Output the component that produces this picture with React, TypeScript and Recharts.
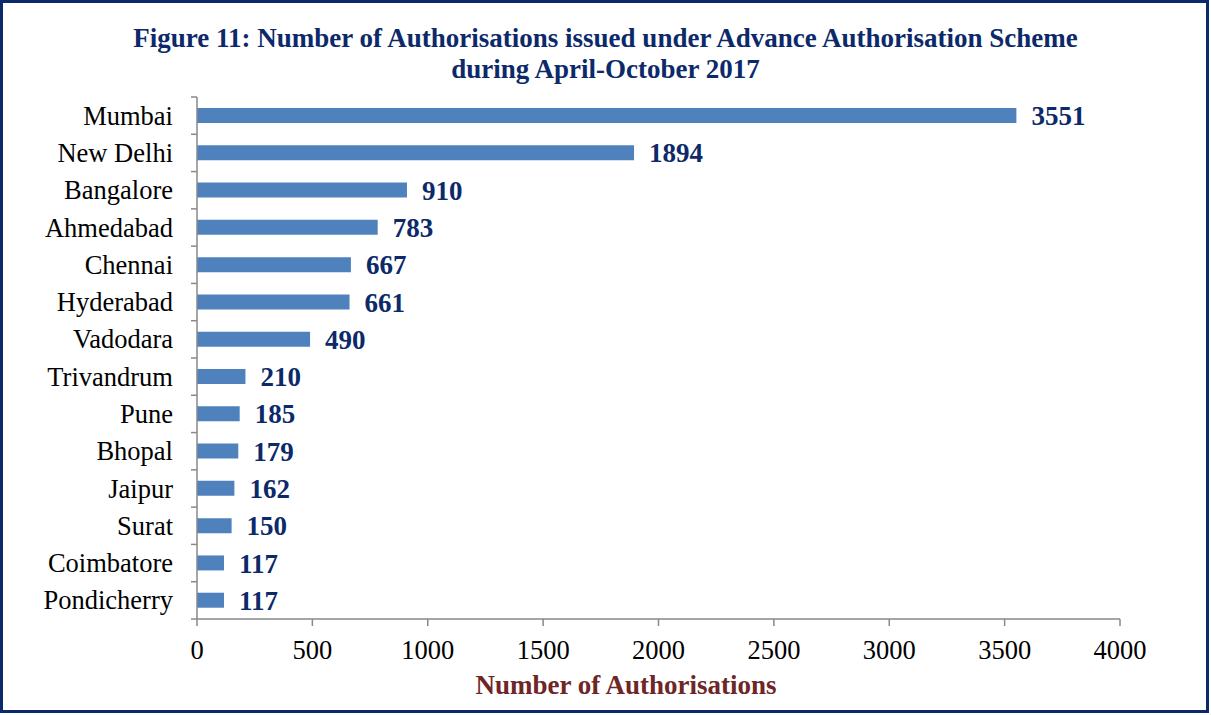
import React from 'react';
import { BarChart, Bar, XAxis, YAxis, LabelList } from 'recharts';

const categories = ['Mumbai', 'New Delhi', 'Bangalore', 'Ahmedabad', 'Chennai', 'Hyderabad', 'Vadodara', 'Trivandrum', 'Pune', 'Bhopal', 'Jaipur', 'Surat', 'Coimbatore', 'Pondicherry'];
const values = [3551, 1894, 910, 783, 667, 661, 490, 210, 185, 179, 162, 150, 117, 117];
const xTicks = [0, 500, 1000, 1500, 2000, 2500, 3000, 3500, 4000];

const data = categories.map((c, i) => ({ name: c, value: values[i] }));

const W = 1211;
const H = 715;
const M = { top: 97, right: 91, bottom: 0, left: 0 };
const Y_W = 197;
const X_H = 96;
const PLOT_H = H - M.top - M.bottom - X_H;
const BW = PLOT_H / categories.length;
const FONT = '"Liberation Serif", "Times New Roman", serif';
const AXIS = '#898989';
const NAVY = '#0c2a6a';

const YTick = (props: any) => {
  const { x, y, payload, index } = props;
  const ax = x + 6 + 18;
  return (
    <g>
      <text x={x} y={y} textAnchor="end" dominantBaseline="central" fontFamily={FONT} fontSize={26.5} fill="#000">
        {payload.value}
      </text>
      <line x1={ax - 6} x2={ax} y1={y - BW / 2} y2={y - BW / 2} stroke={AXIS} strokeWidth={1.5} />
      {index === categories.length - 1 && (
        <line x1={ax - 6} x2={ax} y1={y + BW / 2} y2={y + BW / 2} stroke={AXIS} strokeWidth={1.5} />
      )}
    </g>
  );
};

export default function App() {
  return (
    <div style={{ position: 'absolute', left: 0, top: 0, width: W, height: H, background: '#fff' }}>
      <BarChart width={W} height={H} data={data} layout="vertical" margin={M} barSize={15}>
        <XAxis
          type="number"
          domain={[0, 4000]}
          ticks={xTicks}
          height={X_H}
          tickSize={7}
          tickMargin={14}
          axisLine={{ stroke: AXIS, strokeWidth: 1.5 }}
          tickLine={{ stroke: AXIS, strokeWidth: 1.5 }}
          tick={{ fontFamily: FONT, fontSize: 26.5, fill: '#000' }}
          interval={0}
        />
        <YAxis
          type="category"
          dataKey="name"
          width={Y_W}
          tickSize={6}
          tickMargin={18}
          axisLine={{ stroke: AXIS, strokeWidth: 1.5 }}
          tickLine={false}
          tick={<YTick />}
          interval={0}
        />
        <Bar dataKey="value" fill="#4f81bd" isAnimationActive={false}>
          <LabelList
            dataKey="value"
            position="right"
            offset={15}
            style={{ fontFamily: FONT, fontSize: 27, fontWeight: 'bold', fill: NAVY }}
          />
        </Bar>
      </BarChart>
      <div
        style={{
          position: 'absolute', left: 0, top: 23, width: W, textAlign: 'center',
          fontFamily: FONT, fontSize: 27, fontWeight: 'bold', color: NAVY, lineHeight: '31px',
        }}
      >
        Figure 11: Number of Authorisations issued under Advance Authorisation Scheme
        <br />
        during April-October 2017
      </div>
      <div
        style={{
          position: 'absolute', left: 0, top: 669, width: 1252, textAlign: 'center',
          fontFamily: FONT, fontSize: 27, fontWeight: 'bold', color: '#6e2626', lineHeight: '32px',
        }}
      >
        Number of Authorisations
      </div>
      <div
        style={{
          position: 'absolute', left: 0, top: 0, width: W - 2, height: H - 2, boxSizing: 'border-box',
          border: `3px solid ${NAVY}`, pointerEvents: 'none',
        }}
      />
    </div>
  );
}
